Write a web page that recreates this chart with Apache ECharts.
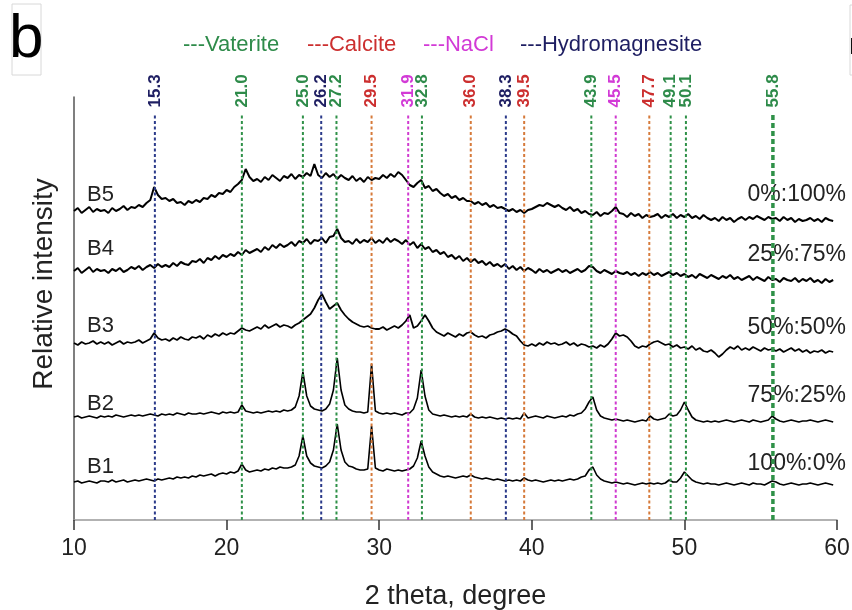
<!DOCTYPE html>
<html><head><meta charset="utf-8">
<script src="https://cdn.jsdelivr.net/npm/echarts@6/dist/echarts.min.js"></script>
<style>html,body{margin:0;padding:0;background:#fff}#c{width:852px;height:610px}</style>
</head><body><div id="c"></div>
<script>
// 2-theta sampling grid: 10.00 .. 59.75 step 0.25 (200 points), rows of 8 = 2 degrees
const twoTheta = Array.from({length: 200}, (_, i) => 10 + i * 0.25);

const b1 = [
38,39,37,38,39,38,37,39, 39,38,40,38,39,40,38,39, 40,39,40,41,40,39,41,40, 41,42,41,43,42,43,42,44,
43,45,44,45,46,44,46,47, 46,48,47,49,56,50,48,49, 50,49,51,50,52,51,53,52, 52,53,55,64,84,64,57,54,
53,52,54,58,70,96,70,58, 54,53,51,50,50,51,94,52, 50,49,51,50,49,50,49,50, 51,54,62,79,64,53,48,46,
44,43,44,43,42,43,44,43, 45,43,42,41,42,41,40,41, 40,39,40,39,40,39,42,40, 39,40,39,38,39,40,39,40,
39,40,41,40,41,43,44,50, 53,45,41,39,38,37,38,37, 36,37,36,35,36,37,36,37, 36,37,36,37,40,38,38,42,
48,44,40,38,37,36,37,36, 36,35,36,37,36,35,36,37, 36,35,37,36,36,35,37,39, 38,36,35,36,37,36,35,36,
36,37,36,35,36,37,36,35];

const b2 = [
103,104,102,103,104,103,102,104, 103,104,103,105,104,103,104,105, 104,105,104,105,106,105,104,106,
105,106,105,107,106,105,107,106, 106,107,106,107,108,107,106,108, 107,108,107,108,115,109,108,107,
108,107,108,109,108,109,108,110, 109,110,113,124,148,124,114,111, 110,109,111,116,130,162,130,115,
111,109,108,108,107,108,156,109, 107,106,107,106,107,106,105,107, 107,111,122,150,124,110,106,105,
104,105,104,103,104,103,104,103, 106,103,102,103,102,103,102,101, 102,101,102,101,102,101,107,102,
103,104,103,102,104,103,102,103, 104,103,105,104,106,107,111,118, 123,110,104,102,101,100,101,100,
99,100,99,98,99,100,99,104, 101,100,101,102,106,104,105,110, 118,110,103,100,99,98,99,98,
99,98,99,100,99,98,99,100, 99,98,100,99,98,99,100,104, 101,99,98,99,100,99,98,99,
99,100,99,98,99,100,99,98];

const b3 = [
177,175,178,176,177,179,176,178, 176,178,175,177,179,176,178,177, 178,180,177,179,181,187,182,180,
181,179,182,180,183,181,180,183, 182,184,181,185,183,186,184,187, 185,187,186,189,192,190,189,191,
193,191,195,192,194,196,193,195, 194,192,195,197,200,203,206,212, 220,226,218,211,214,217,210,205,
201,198,196,194,193,194,192,191, 191,193,190,192,194,192,195,199, 205,192,194,199,205,199,192,188,
186,184,187,185,183,186,184,187, 188,185,183,184,182,185,186,188, 189,191,189,186,184,179,175,174,
176,174,177,175,178,176,177,175, 176,178,175,177,174,176,175,173, 174,172,175,173,176,181,187,184,
185,183,179,174,172,174,173,176, 178,179,177,175,176,173,175,172, 173,171,174,170,172,169,168,170,
167,163,166,170,173,171,174,170, 172,170,173,171,169,172,170,171, 169,171,168,170,172,169,171,168,
170,167,169,168,170,167,169,168];

const b4 = [
249,252,247,250,253,248,251,249, 250,247,251,249,252,248,250,253, 251,254,250,253,255,252,256,253,
255,253,257,254,258,256,255,259, 258,261,257,262,260,264,261,265, 263,266,264,268,265,270,267,269,
271,268,273,270,275,272,276,273, 275,278,274,279,277,281,276,280, 279,282,277,283,284,291,282,278,
279,276,281,277,280,278,282,277, 280,277,282,278,281,279,276,280, 275,278,272,276,271,273,268,270,
266,268,263,265,261,264,259,262, 258,261,257,259,255,258,254,256, 253,256,251,254,250,253,249,252,
250,247,251,248,250,247,249,251, 248,250,247,249,251,248,250,254, 253,249,247,250,248,246,249,247,
246,248,245,247,244,247,245,248, 245,247,244,246,248,245,247,244, 246,243,245,242,246,244,242,245,
243,241,244,242,245,241,243,240, 242,244,240,243,241,239,243,240, 241,238,242,240,239,242,238,241,
239,242,238,240,237,241,238,240];

const b5 = [
309,312,307,310,313,308,311,309, 310,307,312,309,311,314,310,313, 312,315,313,317,320,333,325,321,
322,319,321,317,318,315,319,317, 320,318,322,321,325,323,327,326, 330,328,333,336,340,351,343,339,
341,338,343,340,345,342,339,344, 342,346,341,345,343,347,344,356, 345,342,347,343,346,341,345,342,
340,344,339,342,338,343,340,342, 341,345,342,346,343,348,345,340, 335,333,337,340,332,334,329,331,
327,324,326,322,324,320,322,319, 319,316,318,315,317,313,315,312, 313,311,309,311,308,310,307,310,
311,313,315,314,317,315,313,315, 312,310,313,309,311,307,309,306, 305,308,304,307,306,309,313,307,
306,303,307,304,306,302,305,303, 304,306,302,305,303,306,302,305, 303,306,302,304,301,305,302,300,
302,299,303,300,302,298,301,303, 300,303,301,304,302,300,303,301, 302,299,303,300,302,298,301,299,
300,302,299,301,298,302,300,299];

const sampleNames = ['B1', 'B2', 'B3', 'B4', 'B5'];
const ratioLabels = ['100%:0%', '75%:25%', '50%:50%', '25%:75%', '0%:100%'];

const peakPositions = [15.3, 21.0, 25.0, 26.2, 27.2, 29.5, 31.9, 32.8, 36.0, 38.3, 39.5, 43.9, 45.5, 47.7, 49.1, 50.1, 55.8];
const peakPhases = ['H','V','V','H','V','C','N','V','C','H','C','V','N','C','V','V','V'];
const phaseNames = {V: 'Vaterite', C: 'Calcite', N: 'NaCl', H: 'Hydromagnesite'};
const phaseOrder = ['V', 'C', 'N', 'H'];

const lineColor = {V: '#2f9148', C: '#d67a3a', N: '#d03ad0', H: '#2b3a8a'};
const textColor = {V: '#2e8b4a', C: '#cc2f2f', N: '#d23ad6', H: '#1e1e62'};
const FONT = '"Liberation Sans", Arial, sans-serif';
const traceWidths = [1.6, 1.6, 1.8, 2.0, 2.0];

const traces = [b1, b2, b3, b4, b5];
const series = [];
traces.forEach((arr, k) => {
  series.push({
    name: sampleNames[k], type: 'line', symbol: 'none', animation: false, z: 2,
    lineStyle: {color: '#000', width: traceWidths[k]},
    data: twoTheta.map((x, i) => [x, arr[i]])
  });
});
const lineTop = 407;
peakPositions.forEach((p, k) => {
  const ph = peakPhases[k];
  const thick = p === 55.8;
  series.push({
    type: 'line', symbol: 'none', animation: false, z: 5, silent: true,
    lineStyle: {color: lineColor[ph], width: thick ? 3.5 : 2, type: thick ? [5, 3] : [3, 2.5]},
    data: [[p, 0], [p, lineTop]]
  });
});
series.push({
  type: 'scatter', symbolSize: 1, animation: false, silent: true, z: 6,
  itemStyle: {color: 'rgba(0,0,0,0)'},
  label: {
    show: true, position: 'top', distance: 5, rotate: 90, align: 'left', verticalAlign: 'middle',
    fontFamily: FONT, fontWeight: 'bold', fontSize: 17, opacity: 1,
    formatter: (d) => d.value[0].toFixed(1)
  },
  labelLayout: {hideOverlap: false},
  data: peakPositions.map((p, k) => ({value: [p, lineTop], label: {color: textColor[peakPhases[k]]}}))
});

const graphic = [
  {type: 'rect', shape: {x: 12, y: 4, width: 29, height: 71}, style: {fill: '#fff', stroke: '#d8d8d8', lineWidth: 1}},
  {type: 'text', x: 9, y: 40, style: {text: 'b', font: '62px ' + FONT, fill: '#000', textVerticalAlign: 'middle'}},
  {type: 'rect', shape: {x: 850, y: 5, width: 20, height: 70}, style: {fill: '#fff', stroke: '#d8d8d8', lineWidth: 1}},
  {type: 'rect', shape: {x: 851, y: 38, width: 3, height: 16}, style: {fill: '#111'}},
  {type: 'text', x: 44, y: 284, rotation: Math.PI / 2, style: {text: 'Relative intensity', font: '28px ' + FONT, fill: '#222', textAlign: 'center', textVerticalAlign: 'middle'}}
];
const legendX = [183, 307, 423, 520];
phaseOrder.forEach((ph, k) => {
  graphic.push({type: 'text', x: legendX[k], y: 45, style: {
    text: '---' + phaseNames[ph], font: '22px ' + FONT, fill: textColor[ph], textVerticalAlign: 'middle'}});
});
const nameY = [467, 404, 326, 249, 195];
const ratioY = [464, 396, 328, 255, 195];
sampleNames.forEach((n, k) => {
  graphic.push({type: 'text', x: 87, y: nameY[k], style: {text: n, font: '22px ' + FONT, fill: '#222', textVerticalAlign: 'middle'}});
  graphic.push({type: 'text', x: 846, y: ratioY[k], style: {text: ratioLabels[k], font: '23px ' + FONT, fill: '#222', textAlign: 'right', textVerticalAlign: 'middle'}});
});

const chart = echarts.init(document.getElementById('c'));
chart.setOption({
  animation: false,
  backgroundColor: '#fff',
  grid: {left: 74, right: 15, top: 97, bottom: 90, containLabel: false, outerBoundsMode: 'none'},
  xAxis: {
    type: 'value', min: 10, max: 60, interval: 10,
    name: '2 theta, degree', nameLocation: 'middle', nameGap: 77,
    nameTextStyle: {fontSize: 27, color: '#222', fontFamily: FONT, verticalAlign: 'middle', lineHeight: 30},
    axisLine: {show: true, onZero: false, lineStyle: {color: '#999', width: 1.5}},
    axisTick: {show: true, length: 10, lineStyle: {color: '#333', width: 1.5}},
    axisLabel: {fontSize: 23, color: '#222', margin: 17, fontFamily: FONT},
    splitLine: {show: false}
  },
  yAxis: {
    type: 'value', min: 0, max: 423,
    axisLine: {show: true, lineStyle: {color: '#555', width: 1.5}},
    axisTick: {show: false}, axisLabel: {show: false}, splitLine: {show: false}
  },
  graphic: graphic,
  series: series
});
</script></body></html>
